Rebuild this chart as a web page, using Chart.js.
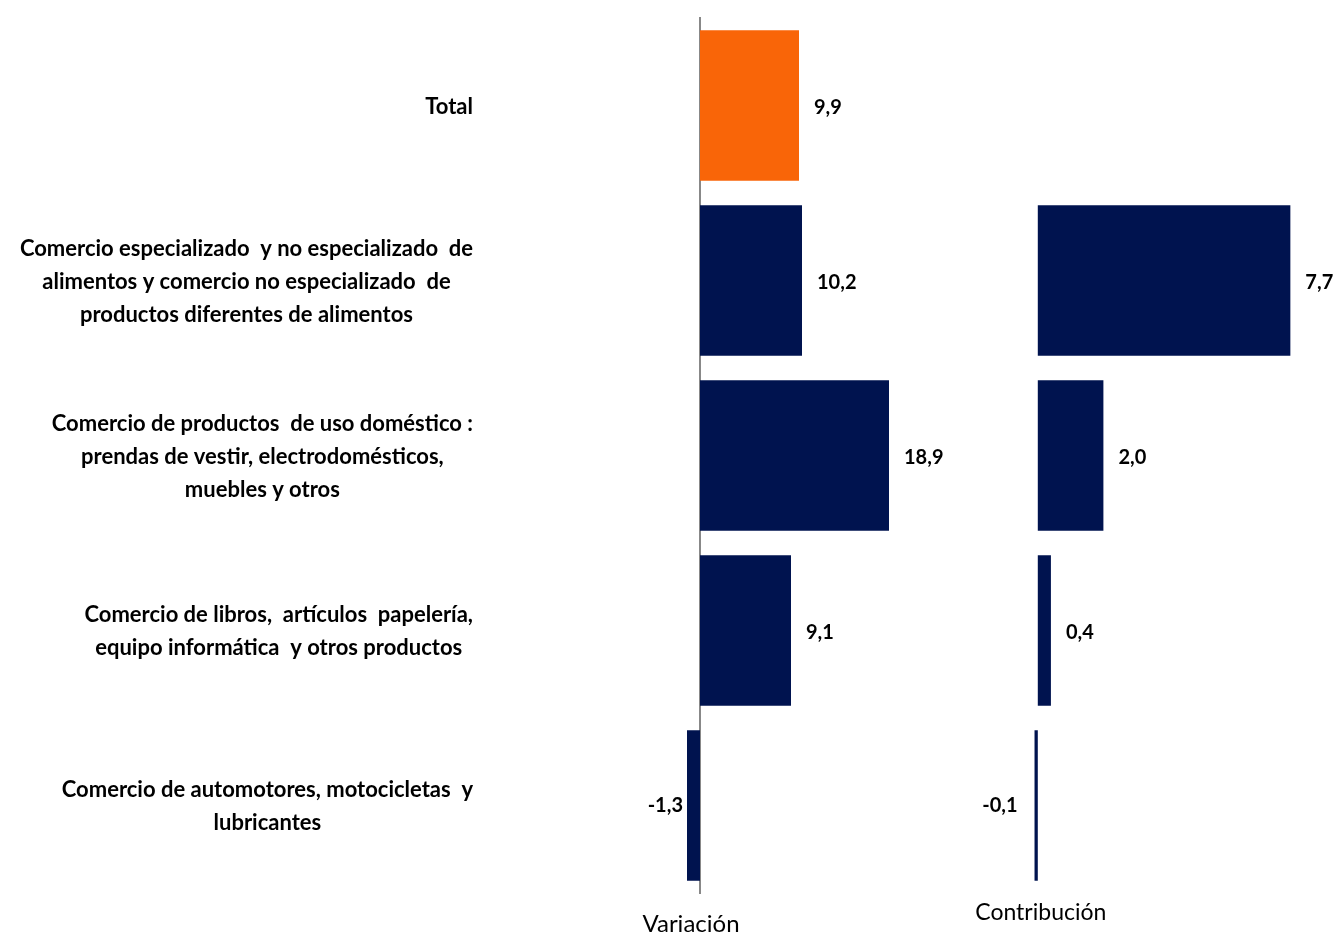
<!DOCTYPE html>
<html lang="es">
<head>
<meta charset="utf-8">
<title>Variación y contribución</title>
<script src="https://cdn.jsdelivr.net/npm/chart.js@4"></script>
<style>
  html, body { margin: 0; padding: 0; background: #fff; }
  #wrap { position: relative; width: 1338px; height: 934px; }
  .box { position: absolute; top: 0; height: 934px; }
  #box-var { left: 0; width: 960px; }
  #box-con { left: 960px; width: 378px; }
</style>
</head>
<body>
<div id="wrap">
  <div class="box" id="box-var"><canvas id="variacionChart"></canvas></div>
  <div class="box" id="box-con"><canvas id="contribucionChart"></canvas></div>
</div>
<script>
// ---- Datos ----
const categorias = [
  ["Total"],
  ["Comercio especializado  y no especializado  de", "alimentos y comercio no especializado  de", "productos diferentes de alimentos"],
  ["Comercio de productos  de uso doméstico :", "prendas de vestir, electrodomésticos,", "muebles y otros"],
  ["Comercio de libros,  artículos  papelería,", "equipo informática  y otros productos"],
  ["Comercio de automotores, motocicletas  y", "lubricantes"]
];
const variacion = [9.9, 10.2, 18.9, 9.1, -1.3];
const contribucion = [null, 7.7, 2.0, 0.4, -0.1];
const titulos = ["Variación", "Contribución"];

// ---- Estilos ----
const NARANJA = "#F96508";
const AZUL = "#00134F";
const EJE = "#888888";
const FUENTE = "Lato, 'Liberation Sans', sans-serif";

function formato(v) {
  return v.toFixed(1).replace(".", ",");
}

// Etiquetas de valor al final de cada barra
const etiquetasValor = {
  id: "etiquetasValor",
  afterDatasetsDraw(chart, args, opts) {
    const ctx = chart.ctx;
    const meta = chart.getDatasetMeta(0);
    const datos = chart.data.datasets[0].data;
    ctx.save();
    ctx.font = "bold 20px " + FUENTE;
    ctx.fillStyle = "#000";
    ctx.textBaseline = "middle";
    meta.data.forEach((bar, i) => {
      const v = datos[i];
      if (v === null || v === undefined) return;
      if (v >= 0) {
        ctx.textAlign = "left";
        ctx.fillText(formato(v), bar.x + 15, bar.y + 2);
      } else {
        ctx.textAlign = "right";
        ctx.fillText(formato(v), bar.x - opts.gapNeg, bar.y);
      }
    });
    ctx.restore();
  }
};

// Nombres de categoría: bloque alineado a la derecha, líneas centradas
const etiquetasCategoria = {
  id: "etiquetasCategoria",
  afterDraw(chart, args, opts) {
    if (!opts.mostrar) return;
    const ctx = chart.ctx;
    const y = chart.scales.y;
    ctx.save();
    ctx.font = "bold 22px " + FUENTE;
    ctx.fillStyle = "#000";
    ctx.textAlign = "center";
    ctx.textBaseline = "middle";
    categorias.forEach((lineas, i) => {
      const ancho = Math.max(...lineas.map(l => ctx.measureText(l).width));
      const cx = opts.derecha - ancho / 2;
      const cy = y.getPixelForValue(i) + 1;
      const alto = 33;
      lineas.forEach((l, k) => {
        ctx.fillText(l, cx, cy + (k - (lineas.length - 1) / 2) * alto);
      });
    });
    ctx.restore();
  }
};

// Título bajo cada panel
const tituloPanel = {
  id: "tituloPanel",
  afterDraw(chart, args, opts) {
    const ctx = chart.ctx;
    const x0 = chart.scales.x.getPixelForValue(0);
    ctx.save();
    ctx.font = opts.tam + "px " + FUENTE;
    ctx.fillStyle = "#000";
    ctx.textAlign = "center";
    ctx.textBaseline = "middle";
    ctx.fillText(opts.texto, x0 + opts.dx, opts.y);
    ctx.restore();
  }
};

function crearPanel(canvasId, valores, cfg) {
  const el = document.getElementById(canvasId);
  return new Chart(el.getContext("2d"), {
    type: "bar",
    data: {
      labels: categorias.map(c => c.join(" ")),
      datasets: [{
        data: valores,
        backgroundColor: ctx => (ctx.dataIndex === 0 ? NARANJA : AZUL),
        borderWidth: 0,
        barPercentage: 0.86,
        categoryPercentage: 1
      }]
    },
    options: {
      indexAxis: "y",
      responsive: true,
      maintainAspectRatio: false,
      animation: false,
      layout: { padding: cfg.padding },
      plugins: {
        legend: { display: false },
        tooltip: { enabled: false },
        etiquetasValor: { gapNeg: cfg.gapNeg },
        etiquetasCategoria: { mostrar: cfg.conCategorias, derecha: 473 },
        tituloPanel: { texto: cfg.titulo, dx: cfg.dxTitulo, y: cfg.yTitulo, tam: cfg.tamTitulo }
      },
      scales: {
        x: {
          min: cfg.min,
          max: cfg.max,
          display: false
        },
        y: cfg.conEje ? {
          position: { x: 0 },
          grid: { display: false },
          ticks: { display: false },
          border: { display: true, color: EJE, width: 2 }
        } : { display: false }
      }
    },
    plugins: [etiquetasValor, etiquetasCategoria, tituloPanel]
  });
}

document.addEventListener("DOMContentLoaded", () => {
  crearPanel("variacionChart", variacion, {
    min: -2, max: 24,
    padding: { left: 680, right: 20, top: 18, bottom: 41 },
    gapNeg: 4,
    conCategorias: true,
    conEje: true,
    titulo: titulos[0], dxTitulo: -9, yTitulo: 924, tamTitulo: 24
  });

  crearPanel("contribucionChart", contribucion, {
    min: -1, max: 9,
    padding: { left: 45, right: 5, top: 18, bottom: 41 },
    gapNeg: 17,
    conCategorias: false,
    conEje: false,
    titulo: titulos[1], dxTitulo: 3, yTitulo: 913, tamTitulo: 23
  });
});
</script>
</body>
</html>
